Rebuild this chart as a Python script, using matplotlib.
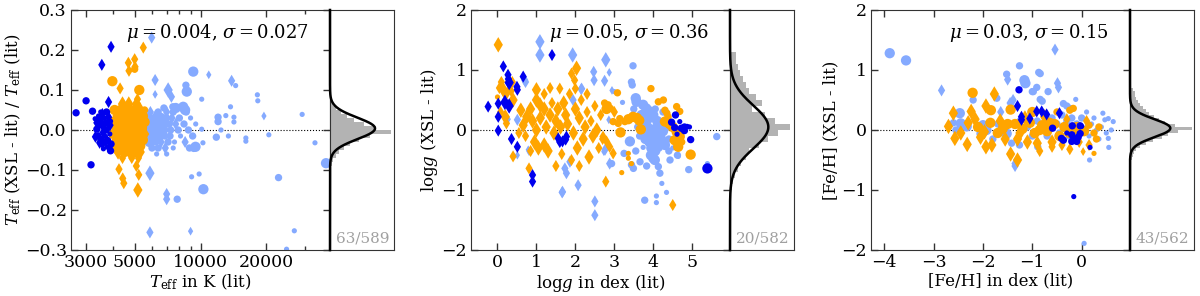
import numpy as np
import matplotlib
matplotlib.use('Agg')
import matplotlib.pyplot as plt
from matplotlib.ticker import NullFormatter

plt.rcParams['font.family'] = 'DejaVu Serif'
plt.rcParams['mathtext.fontset'] = 'dejavuserif'

# ---- data: (x, y, quality class, kind)  kind 'o' / 'd'
TEFF_BLUE = [
    (2700, 0.043, 2, 'o'), (3000, 0.073, 2, 'o'), (3210, 0.047, 2, 'o'), (3540, 0.163, 2, 'd'),
    (3900, 0.208, 2, 'd'), (3800, 0.070, 2, 'd'), (3160, -0.087, 2, 'o'), (3310, -0.017, 2, 'd'),
    (3300, 0.028, 1, 'o'), (3360, 0.018, 2, 'd'), (3420, 0.035, 1, 'o'), (3480, 0.025, 2, 'o'),
    (3560, 0.040, 2, 'd'), (3640, 0.030, 1, 'o'), (3720, 0.045, 2, 'o'), (3800, 0.032, 2, 'd'),
    (3880, 0.022, 1, 'o'), (3360, 0.002, 2, 'o'), (3440, 0.010, 1, 'o'), (3530, 0.015, 2, 'd'),
    (3620, 0.008, 1, 'o'), (3700, 0.018, 2, 'o'), (3780, 0.004, 1, 'o'), (3860, 0.012, 2, 'd'),
    (3420, -0.012, 1, 'o'), (3500, -0.022, 2, 'o'), (3590, -0.006, 2, 'd'), (3680, -0.016, 1, 'o'),
    (3760, -0.026, 2, 'o'), (3850, -0.010, 1, 'o'), (3460, -0.032, 2, 'd'), (3560, -0.038, 1, 'o'),
    (3650, -0.030, 2, 'o'), (3740, -0.042, 1, 'o'), (3830, -0.045, 2, 'd'), (3880, -0.052, 2, 'o'),
    (3600, -0.047, 1, 'o'), (3900, -0.035, 2, 'o'), (3700, 0.000, 2, 'o'), (3500, 0.045, 1, 'o'),
]
TEFF_ORANGE = [
    (3955, 0.122, 3, 'o'), (4290, 0.104, 2, 'd'), (5250, 0.100, 3, 'o'), (4680, 0.168, 2, 'd'),
    (4710, 0.148, 2, 'd'), (5000, 0.177, 2, 'd'), (5020, 0.158, 2, 'd'), (5000, 0.152, 2, 'o'),
    (5475, 0.206, 2, 'd'), (5150, 0.077, 2, 'd'), (4240, -0.098, 2, 'd'), (4410, -0.121, 2, 'd'),
    (4460, -0.133, 2, 'd'), (5090, -0.090, 2, 'd'), (5220, -0.112, 2, 'd'), (5170, -0.150, 3, 'd'),
    (4400, 0.065, 3, 'd'), (4700, 0.065, 3, 'd'), (5100, 0.065, 3, 'd'),
    (4050, 0.050, 3, 'o'), (4300, 0.050, 3, 'd'), (4550, 0.050, 3, 'o'), (4800, 0.050, 3, 'd'),
    (5050, 0.050, 3, 'o'), (5300, 0.050, 3, 'd'), (5550, 0.050, 2, 'o'),
    (4150, 0.035, 3, 'd'), (4400, 0.035, 3, 'o'), (4650, 0.035, 3, 'd'), (4900, 0.035, 3, 'o'),
    (5150, 0.035, 3, 'd'), (5450, 0.035, 3, 'o'),
    (4000, 0.020, 3, 'o'), (4250, 0.020, 3, 'd'), (4500, 0.020, 3, 'o'), (4750, 0.020, 3, 'd'),
    (5000, 0.020, 3, 'o'), (5250, 0.020, 3, 'd'), (5550, 0.020, 3, 'o'),
    (4100, 0.005, 3, 'd'), (4350, 0.005, 3, 'o'), (4600, 0.005, 3, 'd'), (4850, 0.005, 3, 'o'),
    (5100, 0.005, 3, 'd'), (5400, 0.005, 3, 'o'),
    (4000, -0.010, 3, 'o'), (4250, -0.010, 3, 'o'), (4500, -0.010, 3, 'd'), (4750, -0.010, 3, 'o'),
    (5000, -0.010, 3, 'd'), (5250, -0.010, 3, 'o'), (5550, -0.010, 3, 'd'),
    (4150, -0.025, 3, 'o'), (4400, -0.025, 3, 'd'), (4650, -0.025, 3, 'o'), (4900, -0.025, 3, 'd'),
    (5150, -0.025, 3, 'o'), (5450, -0.025, 3, 'o'),
    (4050, -0.040, 3, 'd'), (4300, -0.040, 3, 'o'), (4550, -0.040, 3, 'd'), (4800, -0.040, 3, 'o'),
    (5050, -0.040, 3, 'd'), (5300, -0.040, 3, 'o'),
    (4200, -0.055, 3, 'd'), (4500, -0.055, 3, 'o'), (4750, -0.055, 3, 'd'), (5000, -0.055, 3, 'o'),
    (5300, -0.055, 3, 'd'), (4400, -0.070, 2, 'd'), (4850, -0.070, 2, 'd'), (5200, -0.070, 2, 'd'),
]
TEFF_LIGHT = [
    (5980, 0.231, 2, 'd'), (6200, 0.125, 2, 'd'), (6200, 0.089, 1, 'd'), (7110, 0.100, 3, 'd'),
    (7360, 0.083, 2, 'd'), (9260, 0.146, 3, 'o'), (10900, 0.138, 1, 'd'), (13860, 0.123, 2, 'd'),
    (14460, 0.111, 1, 'o'), (18170, 0.088, 1, 'o'), (18250, 0.073, 1, 'o'), (13700, 0.058, 1, 'o'),
    (10120, 0.077, 1, 'o'), (8570, 0.112, 2, 'o'), (8650, 0.096, 3, 'o'), (8330, 0.058, 3, 'o'),
    (8500, 0.050, 3, 'o'), (7470, 0.058, 2, 'o'), (12020, 0.032, 2, 'o'), (12020, 0.021, 2, 'o'),
    (13040, 0.036, 1, 'o'), (14200, 0.032, 1, 'o'), (14200, 0.020, 1, 'o'), (19470, 0.035, 1, 'd'),
    (29100, 0.039, 1, 'o'), (33300, -0.032, 1, 'o'), (10120, 0.002, 1, 'o'), (12400, 0.000, 1, 'o'),
    (11800, -0.018, 2, 'o'), (13400, -0.015, 1, 'o'), (16100, -0.020, 1, 'o'), (16100, -0.028, 1, 'o'),
    (20500, -0.012, 1, 'o'), (9480, -0.042, 3, 'o'), (9300, -0.046, 2, 'o'), (10250, -0.032, 1, 'o'),
    (5870, -0.108, 3, 'd'), (7000, -0.160, 2, 'd'), (7000, -0.173, 2, 'd'), (7820, -0.173, 2, 'o'),
    (9100, -0.117, 1, 'o'), (9850, -0.110, 1, 'o'), (10300, -0.148, 3, 'o'), (22700, -0.119, 2, 'o'),
    (26800, -0.252, 1, 'o'), (24700, -0.298, 1, 'o'), (5870, -0.256, 2, 'd'), (9000, -0.253, 1, 'd'),
    (37400, -0.083, 3, 'o'),
    (6800, 0.055, 2, 'o'), (7700, 0.055, 3, 'o'), (8200, 0.055, 2, 'o'),
    (5900, 0.045, 2, 'd'), (6400, 0.045, 2, 'o'), (7000, 0.045, 2, 'd'), (7500, 0.045, 2, 'o'), (8600, 0.045, 2, 'o'),
    (5800, 0.030, 3, 'o'), (6200, 0.030, 3, 'd'), (6600, 0.030, 3, 'o'), (7000, 0.030, 2, 'o'),
    (7400, 0.030, 2, 'd'), (8000, 0.030, 2, 'o'), (9000, 0.030, 1, 'o'),
    (5750, 0.015, 3, 'o'), (6100, 0.015, 3, 'o'), (6450, 0.015, 3, 'd'), (6800, 0.015, 3, 'o'),
    (7200, 0.015, 2, 'o'), (7700, 0.015, 2, 'd'), (8400, 0.015, 2, 'o'), (9500, 0.015, 1, 'o'),
    (5800, 0.000, 3, 'd'), (6150, 0.000, 3, 'o'), (6500, 0.000, 3, 'o'), (6900, 0.000, 2, 'd'),
    (7300, 0.000, 2, 'o'), (7900, 0.000, 2, 'o'), (8800, 0.000, 2, 'o'),
    (5750, -0.015, 3, 'o'), (6100, -0.015, 3, 'd'), (6450, -0.015, 3, 'o'), (6850, -0.015, 2, 'o'),
    (7250, -0.015, 2, 'o'), (8100, -0.015, 1, 'o'), (9200, -0.015, 2, 'o'),
    (5850, -0.030, 3, 'o'), (6250, -0.030, 2, 'o'), (6600, -0.030, 2, 'd'), (7100, -0.030, 2, 'o'),
    (7600, -0.030, 1, 'o'), (8500, -0.030, 2, 'd'),
    (6000, -0.045, 2, 'o'), (6400, -0.045, 2, 'o'), (6900, -0.045, 2, 'd'), (7500, -0.045, 1, 'o'),
    (8900, -0.045, 2, 'o'), (6300, -0.060, 1, 'o'), (7000, -0.060, 1, 'o'),
]

LOGG_BLUE = [
    (-0.24, 0.39, 2, 'd'), (0.02, 0.44, 2, 'd'), (0.02, 0.22, 2, 'd'), (0.02, -0.01, 2, 'd'),
    (0.15, 1.06, 2, 'd'), (0.27, 0.92, 2, 'd'), (0.30, 0.79, 3, 'd'), (0.28, 0.85, 2, 'd'),
    (0.19, 0.46, 3, 'd'), (0.30, 0.40, 3, 'd'), (0.51, 0.67, 2, 'd'), (0.50, 0.72, 2, 'd'),
    (0.66, 0.89, 2, 'd'), (0.36, -0.15, 2, 'd'), (0.51, -0.28, 2, 'd'), (0.90, -0.75, 2, 'd'),
    (0.90, -0.86, 2, 'd'), (1.40, 1.25, 2, 'd'), (1.56, -0.14, 2, 'd'), (1.60, -0.20, 2, 'd'),
    (1.67, -0.19, 2, 'd'), (1.77, -0.11, 2, 'd'), (1.75, -0.16, 2, 'd'),
    (4.57, 0.25, 2, 'o'), (4.47, 0.13, 2, 'o'), (4.68, 0.14, 1, 'o'), (4.55, 0.04, 2, 'o'),
    (4.61, -0.07, 1, 'o'), (4.72, 0.03, 2, 'o'), (4.80, 0.05, 2, 'o'), (4.87, 0.06, 1, 'o'),
    (4.93, 0.05, 1, 'o'), (4.80, -0.01, 2, 'o'), (4.96, -0.16, 2, 'o'), (5.39, -0.64, 3, 'o'),
]
LOGG_ORANGE = [
    (0.02, 1.42, 3, 'd'), (0.00, 0.55, 1, 'o'), (0.05, 0.70, 2, 'd'), (0.10, 0.80, 2, 'd'),
    (0.15, 0.67, 3, 'd'), (0.20, 0.60, 2, 'd'), (0.08, 0.30, 2, 'd'), (0.20, 0.22, 3, 'd'),
    (0.23, 0.11, 2, 'd'), (0.40, 0.50, 3, 'd'), (0.38, 0.80, 2, 'd'), (0.35, 0.65, 2, 'd'),
    (0.25, 0.62, 2, 'd'), (0.40, -0.44, 2, 'd'), (0.60, 0.33, 3, 'd'), (0.66, 0.08, 3, 'd'),
    (0.75, 0.22, 3, 'd'), (0.72, -0.10, 2, 'd'), (0.81, -0.64, 2, 'd'), (0.85, 0.35, 3, 'd'),
    (0.90, 0.15, 3, 'd'), (0.95, -0.20, 3, 'd'), (1.00, 0.67, 3, 'd'), (1.00, 0.50, 3, 'd'),
    (1.09, 0.42, 3, 'd'), (1.00, 0.00, 3, 'd'), (1.05, -0.30, 3, 'd'), (1.10, 0.20, 3, 'd'),
    (1.20, 0.35, 3, 'd'), (1.25, 0.05, 3, 'd'), (1.20, -0.25, 3, 'd'), (1.30, -0.35, 3, 'd'),
    (1.35, 0.25, 3, 'd'), (1.40, 0.45, 2, 'd'), (1.45, -0.05, 3, 'd'), (1.50, 0.15, 3, 'd'),
    (1.50, -0.60, 2, 'd'), (1.55, 0.35, 3, 'd'), (1.60, 0.69, 2, 'd'), (1.62, 0.05, 3, 'd'),
    (1.70, 0.45, 3, 'd'), (1.75, 0.25, 3, 'd'), (1.80, 0.10, 3, 'd'), (1.85, 0.60, 2, 'd'),
    (1.90, 0.94, 2, 'd'), (2.03, 1.03, 3, 'd'), (1.98, 0.83, 2, 'd'), (2.00, 0.69, 2, 'd'),
    (1.95, -0.05, 3, 'd'), (2.00, 0.35, 3, 'd'), (2.10, 0.20, 3, 'd'), (2.05, -0.30, 3, 'd'),
    (2.15, 0.50, 2, 'd'), (2.20, -0.15, 3, 'd'), (2.25, 0.05, 3, 'd'), (2.30, 0.30, 2, 'd'),
    (2.35, -0.45, 3, 'd'), (2.40, 0.15, 2, 'd'), (2.45, -0.10, 3, 'd'), (2.50, 0.40, 2, 'd'),
    (2.55, 0.00, 3, 'd'), (2.60, -0.30, 2, 'd'), (2.65, 0.25, 2, 'd'), (2.70, -0.15, 2, 'd'),
    (2.75, 0.45, 2, 'o'), (2.80, 0.35, 3, 'o'), (2.78, -0.86, 2, 'd'), (2.84, 0.42, 2, 'o'),
    (2.90, 0.36, 2, 'o'), (1.20, 0.60, 2, 'd'), (0.55, -0.05, 2, 'd'), (1.65, -0.40, 2, 'd'),
    (1.90, -0.50, 2, 'd'), (2.10, -0.60, 2, 'd'), (1.35, 0.70, 2, 'd'), (2.30, 0.60, 2, 'd'),
    (0.85, -0.35, 2, 'd'),
    (2.97, 0.14, 2, 'o'), (3.10, 0.11, 2, 'o'), (3.27, 0.14, 2, 'o'), (3.14, 0.19, 2, 'o'),
    (3.36, 0.18, 3, 'o'), (3.48, 0.22, 3, 'o'), (3.58, 0.20, 3, 'o'), (3.64, 0.16, 3, 'o'),
    (3.68, 0.01, 3, 'o'), (3.16, -0.04, 3, 'o'), (2.71, -0.11, 2, 'd'), (2.80, -0.19, 2, 'd'),
    (2.88, -0.28, 2, 'd'), (2.97, -0.39, 2, 'd'), (3.36, -0.39, 1, 'o'), (3.36, -0.47, 1, 'o'),
    (3.44, -0.56, 1, 'o'), (3.19, -0.71, 1, 'o'), (3.08, 0.62, 2, 'o'), (3.94, 0.69, 2, 'o'),
    (4.13, 0.47, 2, 'o'), (4.26, 0.50, 2, 'o'), (4.30, 0.33, 2, 'o'), (4.35, 0.28, 2, 'o'),
    (4.38, 0.22, 2, 'o'), (4.30, 0.14, 3, 'o'), (4.42, 0.10, 3, 'o'), (4.50, 0.05, 3, 'o'),
    (4.60, -0.03, 3, 'o'), (4.68, -0.11, 3, 'o'), (4.55, -0.17, 3, 'o'), (4.64, -0.28, 3, 'o'),
    (4.73, -0.20, 2, 'o'), (4.60, 0.39, 2, 'o'), (4.68, 0.31, 2, 'o'), (4.96, -0.41, 3, 'o'),
    (4.50, -1.25, 2, 'd'), (3.00, 0.30, 2, 'd'),
]
LOGG_LIGHT = [
    (1.09, 1.47, 3, 'd'), (1.09, 1.25, 3, 'd'), (1.93, 1.25, 3, 'd'), (0.70, 0.83, 2, 'd'),
    (0.51, 0.17, 2, 'd'), (0.81, -0.36, 1, 'd'), (0.79, -0.33, 1, 'd'), (0.51, -0.42, 1, 'd'),
    (0.25, 0.18, 2, 'd'), (1.86, -0.53, 2, 'd'), (1.73, -0.64, 2, 'd'), (1.77, -0.72, 2, 'd'),
    (2.07, -0.92, 2, 'd'), (1.67, -1.03, 2, 'd'), (2.47, 0.97, 2, 'd'), (2.16, 0.69, 2, 'd'),
    (1.94, 0.50, 2, 'd'), (2.50, -1.19, 2, 'd'), (2.50, -1.42, 2, 'd'), (2.78, 1.17, 3, 'd'),
    (2.87, 0.96, 1, 'd'), (2.48, 0.83, 2, 'd'), (2.75, 0.82, 2, 'd'), (3.00, 0.64, 1, 'o'),
    (3.48, 1.07, 2, 'o'), (3.21, 0.46, 1, 'o'), (3.44, 0.80, 2, 'o'), (3.46, 0.75, 2, 'o'),
    (3.55, 0.53, 3, 'o'), (3.57, 0.47, 3, 'o'), (3.74, 0.42, 3, 'o'), (3.82, 0.36, 3, 'o'),
    (3.91, 0.31, 3, 'o'), (3.40, -0.19, 3, 'o'), (3.25, -0.39, 2, 'o'), (2.93, -0.56, 2, 'o'),
    (2.76, -0.33, 2, 'd'), (3.44, -0.58, 2, 'o'), (3.49, -0.64, 2, 'o'), (3.74, -0.29, 1, 'o'),
    (3.94, -0.42, 3, 'o'), (4.00, -0.47, 3, 'o'), (4.04, -0.50, 3, 'o'), (4.13, -0.61, 2, 'o'),
    (4.17, -0.72, 2, 'o'), (4.43, -0.50, 2, 'o'), (4.64, -0.44, 1, 'o'), (4.22, -0.89, 1, 'o'),
    (4.34, -1.04, 1, 'o'), (4.08, -1.10, 1, 'o'), (3.78, -1.17, 2, 'o'), (4.08, -1.21, 1, 'o'),
    (4.91, -0.66, 2, 'o'), (5.39, -0.56, 1, 'o'), (5.63, -0.11, 2, 'o'), (4.60, -0.28, 2, 'o'),
    (4.62, -0.42, 2, 'o'), (3.66, -0.53, 2, 'o'), (3.83, -0.60, 2, 'o'), (2.86, 0.17, 1, 'd'),
    (2.73, -0.36, 1, 'd'), (2.88, -0.56, 2, 'd'), (2.94, 0.66, 1, 'd'), (2.15, 0.68, 2, 'd'),
    (0.72, 0.80, 2, 'd'), (1.66, -1.04, 2, 'd'),
    (3.70, 0.25, 3, 'o'), (3.80, 0.15, 3, 'o'), (3.90, 0.20, 3, 'o'), (4.00, 0.25, 3, 'o'),
    (4.10, 0.15, 3, 'o'), (4.20, 0.10, 3, 'o'), (3.75, 0.00, 3, 'o'), (3.85, 0.05, 3, 'o'),
    (3.95, -0.05, 3, 'o'), (4.05, 0.02, 3, 'o'), (4.15, -0.05, 3, 'o'), (4.25, -0.02, 3, 'o'),
    (4.35, 0.05, 2, 'o'), (3.80, -0.15, 3, 'o'), (3.90, -0.20, 3, 'o'), (4.00, -0.12, 3, 'o'),
    (4.10, -0.22, 3, 'o'), (4.20, -0.15, 3, 'o'), (4.30, -0.25, 3, 'o'), (4.40, -0.15, 2, 'o'),
    (3.95, -0.30, 3, 'o'), (4.05, -0.35, 3, 'o'), (4.15, -0.30, 2, 'o'), (3.85, 0.30, 2, 'o'),
    (4.05, 0.35, 2, 'o'), (4.25, 0.30, 2, 'o'), (3.60, 0.05, 2, 'o'), (3.55, -0.35, 2, 'o'),
    (3.65, -0.10, 2, 'o'), (3.50, 0.35, 2, 'o'), (4.40, -0.35, 2, 'o'), (4.50, -0.30, 1, 'o'),
]

FEH_BLUE = [
    (-1.27, 0.67, 2, 'o'), (-1.30, 0.40, 2, 'd'), (-1.22, 0.22, 2, 'd'), (-1.22, 0.17, 2, 'd'),
    (-0.91, 0.31, 2, 'd'), (-0.81, 0.31, 2, 'd'), (-0.71, 0.26, 2, 'd'), (-0.45, 0.28, 2, 'd'),
    (-1.05, 0.19, 2, 'd'), (-0.59, 0.03, 2, 'o'), (-0.19, 0.07, 2, 'o'), (-0.03, 0.07, 2, 'o'),
    (0.00, 0.06, 1, 'o'), (-0.37, -0.17, 2, 'o'), (-0.41, -0.14, 2, 'o'), (-0.20, -0.08, 2, 'o'),
    (-0.15, -0.15, 2, 'o'), (-0.10, -0.19, 2, 'o'), (-0.07, -0.12, 2, 'o'), (-0.20, -0.19, 2, 'o'),
    (-0.03, -0.06, 2, 'o'), (0.17, -0.29, 1, 'o'), (-0.16, -1.11, 1, 'o'), (-0.30, -0.05, 1, 'o'),
]
FEH_ORANGE = [
    (-2.21, 0.62, 3, 'o'), (-1.77, 0.60, 3, 'd'), (-2.60, 0.28, 3, 'd'), (-1.94, 0.40, 3, 'd'),
    (-2.24, 0.31, 3, 'd'), (-2.70, 0.06, 3, 'd'), (-2.16, 0.18, 3, 'd'), (-2.57, -0.14, 3, 'd'),
    (-1.94, -0.28, 3, 'd'), (-2.32, -0.24, 3, 'd'), (-1.82, -0.25, 3, 'd'), (-1.97, -0.03, 3, 'd'),
    (-1.44, -0.40, 3, 'd'), (-1.30, -0.50, 3, 'd'), (-1.44, 0.34, 3, 'o'), (-1.84, 0.33, 3, 'o'),
    (-0.24, -0.32, 2, 'd'), (0.25, -0.39, 1, 'o'), (0.03, -0.36, 1, 'd'), (-0.17, 0.36, 2, 'o'),
    (-0.24, 0.33, 2, 'o'), (-2.45, -0.05, 3, 'd'), (-2.10, 0.05, 3, 'o'), (-1.65, 0.15, 3, 'd'),
    (-1.55, -0.15, 3, 'd'), (-1.70, -0.05, 3, 'o'), (-1.60, 0.02, 3, 'o'), (-2.05, -0.12, 3, 'd'),
    (-2.30, 0.12, 3, 'd'), (-1.85, 0.12, 3, 'o'), (-1.50, 0.10, 3, 'o'),
    (-1.35, 0.10, 3, 'o'), (-1.20, 0.02, 3, 'o'), (-1.05, 0.12, 3, 'o'), (-0.95, -0.05, 3, 'o'),
    (-0.80, 0.08, 3, 'o'), (-0.70, -0.02, 3, 'o'), (-0.55, 0.10, 3, 'o'), (-0.45, -0.10, 3, 'o'),
    (-0.35, 0.05, 3, 'o'), (-0.25, -0.05, 3, 'o'), (-0.10, 0.05, 3, 'o'), (0.05, -0.02, 3, 'o'),
    (0.15, 0.08, 2, 'o'), (0.25, -0.05, 2, 'o'), (0.35, 0.05, 2, 'o'), (-1.30, -0.15, 3, 'd'),
    (-1.10, -0.20, 3, 'd'), (-0.90, -0.22, 3, 'd'), (-0.60, -0.20, 3, 'd'), (-0.40, -0.25, 2, 'd'),
    (-0.05, -0.20, 2, 'd'), (0.15, -0.25, 2, 'd'), (-1.15, 0.20, 3, 'd'), (-0.75, 0.22, 3, 'd'),
    (-0.30, 0.18, 2, 'd'), (0.10, 0.15, 2, 'd'), (-0.60, -0.28, 2, 'd'), (-0.85, -0.35, 2, 'd'),
    (-1.00, 0.30, 3, 'o'), (-0.50, 0.30, 2, 'o'), (0.30, -0.15, 2, 'o'), (-1.25, -0.05, 3, 'd'),
    (-0.65, 0.12, 3, 'o'), (-0.15, 0.00, 3, 'o'), (-0.85, 0.00, 3, 'o'),
]
FEH_LIGHT = [
    (-3.89, 1.28, 3, 'o'), (-3.56, 1.16, 3, 'o'), (-2.84, 0.66, 2, 'd'), (-0.54, 1.34, 2, 'd'),
    (-1.26, 1.07, 2, 'o'), (-1.52, 0.93, 2, 'o'), (-1.50, 0.84, 2, 'd'), (-1.16, 0.83, 3, 'o'),
    (-1.14, 0.78, 3, 'o'), (-0.87, 0.96, 2, 'o'), (-0.91, 0.71, 2, 'o'), (-1.00, 0.64, 2, 'o'),
    (-0.68, 0.64, 2, 'o'), (-0.49, 0.78, 2, 'd'), (-0.47, 0.71, 2, 'd'), (-0.84, 0.51, 2, 'o'),
    (-0.80, 0.48, 2, 'o'), (-0.12, 0.51, 1, 'o'), (-2.20, 0.50, 2, 'o'), (-2.47, 0.28, 3, 'o'),
    (-2.45, 0.11, 3, 'o'), (-1.72, 0.53, 2, 'o'), (-1.64, 0.30, 2, 'd'), (-1.39, 0.50, 2, 'd'),
    (-1.42, -0.22, 2, 'o'), (-1.26, -0.25, 2, 'o'), (-1.35, -0.56, 2, 'd'), (-1.35, -0.60, 2, 'd'),
    (-0.89, -0.28, 2, 'o'), (0.16, -0.50, 1, 'o'), (0.05, -1.89, 1, 'o'), (0.43, 0.28, 1, 'o'),
    (0.47, 0.17, 1, 'o'), (0.54, 0.19, 1, 'o'), (0.64, 0.14, 1, 'o'), (0.55, -0.29, 1, 'o'),
    (0.54, -0.14, 1, 'o'), (-1.93, 0.00, 3, 'o'), (-2.03, -0.06, 3, 'o'), (-2.00, 0.08, 3, 'o'),
    (-2.33, 0.06, 3, 'o'), (-1.52, -0.06, 3, 'o'), (-2.55, 0.00, 2, 'o'), (-2.60, 0.12, 2, 'o'),
    (-0.84, 0.94, 2, 'o'), (-1.15, 0.80, 2, 'o'), (-0.98, 0.64, 2, 'o'), (-0.37, 0.44, 2, 'o'),
    (-0.30, 0.40, 2, 'o'), (-0.24, 0.36, 2, 'o'), (-1.45, 0.45, 2, 'd'),
    (-0.60, 0.20, 2, 'o'), (-0.50, 0.10, 2, 'o'), (-0.40, 0.25, 2, 'o'), (-0.30, 0.15, 2, 'o'),
    (-0.20, 0.20, 2, 'o'), (-0.10, 0.10, 2, 'o'), (0.00, 0.20, 2, 'o'), (0.10, 0.05, 1, 'o'),
    (0.20, 0.10, 1, 'o'), (0.30, 0.00, 1, 'o'), (0.40, 0.05, 1, 'o'), (0.50, -0.05, 1, 'o'),
    (-0.45, -0.05, 2, 'o'), (-0.25, -0.10, 2, 'o'), (-0.05, -0.05, 2, 'o'), (0.15, -0.10, 1, 'o'),
    (0.35, -0.15, 1, 'o'), (-0.70, -0.10, 2, 'o'), (-0.65, 0.05, 2, 'o'), (0.25, 0.20, 1, 'o'),
    (-1.10, 0.05, 2, 'o'), (-1.00, -0.10, 2, 'o'), (-0.90, 0.15, 2, 'o'), (-1.25, 0.15, 2, 'o'),
    (-1.70, 0.10, 2, 'o'), (-1.80, -0.15, 2, 'o'), (0.10, 0.30, 1, 'o'), (0.60, 0.00, 1, 'o'),
]

# residual histograms (bin centres, density)
TEFF_HIST_Y = [0.085, 0.075, 0.065, 0.055, 0.045, 0.035, 0.025, 0.015, 0.005, -0.005, -0.015,
               -0.025, -0.035, -0.045, -0.055, -0.065, -0.075, -0.085, -0.095, -0.105, -0.115]
TEFF_HIST_D = [0.3, 0.6, 1.0, 2.0, 3.5, 5.5, 8.0, 11.0, 15.0, 20.0, 13.0,
               9.5, 6.5, 4.5, 3.0, 2.0, 1.0, 0.6, 0.4, 0.3, 0.3]
LOGG_HIST_Y = [1.25, 1.15, 1.05, 0.95, 0.85, 0.75, 0.65, 0.55, 0.45, 0.35, 0.25, 0.15, 0.05,
               -0.05, -0.15, -0.25, -0.35, -0.45, -0.55, -0.65, -0.75, -0.85, -0.95, -1.05, -1.15]
LOGG_HIST_D = [0.18, 0.18, 0.22, 0.28, 0.37, 0.46, 0.55, 0.74, 0.92, 0.65, 1.0, 1.3, 1.72,
               1.39, 1.1, 0.83, 0.55, 0.46, 0.33, 0.24, 0.15, 0.09, 0.06, 0.04, 0.04]
FEH_HIST_Y = [0.675, 0.625, 0.575, 0.525, 0.475, 0.425, 0.375, 0.325, 0.275, 0.225, 0.175, 0.125,
              0.075, 0.025, -0.025, -0.075, -0.125, -0.175, -0.225, -0.275, -0.325, -0.375,
              -0.425, -0.475]
FEH_HIST_D = [0.2, 0.3, 0.34, 0.42, 0.5, 0.63, 0.84, 1.05, 1.27, 1.6, 1.9, 2.3,
              2.95, 4.1, 3.15, 2.5, 2.1, 1.5, 1.05, 0.63, 0.42, 0.25, 0.17, 0.13]

STATS = [(0.004, 0.027), (0.05, 0.36), (0.03, 0.15)]
OUTLIERS = ['63/589', '20/582', '43/562']

COLORS = ['#0000ee', '#ffa500', '#85aaff']
SIZES = {'o': {1: 14, 2: 28, 3: 55}, 'd': {1: 20, 2: 38, 3: 62}}
SPINE = '#333333'


def draw_points(ax, pts, color):
    for kind in ('o', 'd'):
        sel = [p for p in pts if p[3] == kind]
        if not sel:
            continue
        ax.scatter([p[0] for p in sel], [p[1] for p in sel],
                   s=[SIZES[kind][p[2]] for p in sel], marker=kind,
                   c=color, edgecolors='none', zorder=2)


def draw_hist(axh, ys, dens, width, mu, sigma, xmax, ylim, label):
    axh.barh(ys, dens, height=width, color='#b3b3b3', edgecolor='none')
    yy = np.linspace(ylim[0], ylim[1], 600)
    gauss = np.exp(-0.5 * ((yy - mu) / sigma) ** 2) / (sigma * np.sqrt(2 * np.pi))
    axh.plot(gauss, yy, color='k', lw=1.8, clip_on=False, zorder=3)
    axh.set_xlim(0, xmax)
    axh.set_ylim(ylim)
    axh.set_xticks([])
    axh.set_yticks([])
    for s in axh.spines.values():
        s.set_color(SPINE)
    axh.text(0.93, 0.02, label, transform=axh.transAxes, ha='right', va='bottom',
             color='#a0a0a0', fontsize=11)


fig = plt.figure(figsize=(12, 2.96), dpi=100)
W, H = 1200.0, 296.0
panels = [
    (TEFF_BLUE, TEFF_ORANGE, TEFF_LIGHT, TEFF_HIST_Y, TEFF_HIST_D, 0.01, 21.0, (-0.3, 0.3)),
    (LOGG_BLUE, LOGG_ORANGE, LOGG_LIGHT, LOGG_HIST_Y, LOGG_HIST_D, 0.1, 1.85, (-2, 2)),
    (FEH_BLUE, FEH_ORANGE, FEH_LIGHT, FEH_HIST_Y, FEH_HIST_D, 0.05, 4.22, (-2, 2)),
]
xlabels = [r'$T_{\rm eff}$ in K (lit)', r'$\mathrm{log}g$ in dex (lit)', '[Fe/H] in dex (lit)']
ylabels = [r'$T_{\rm eff}$ (XSL - lit) / $T_{\rm eff}$ (lit)', r'$\mathrm{log}g$ (XSL - lit)',
           '[Fe/H] (XSL - lit)']

for i, (blue, orange, light, hy, hd, bw, hmax, ylim) in enumerate(panels):
    x0 = 71 + 400 * i
    ax = fig.add_axes([x0 / W, 1 - 250 / H, 259 / W, 240 / H])
    axh = fig.add_axes([(x0 + 259) / W, 1 - 250 / H, 64 / W, 240 / H])

    draw_points(ax, light, COLORS[2])
    draw_points(ax, orange, COLORS[1])
    draw_points(ax, blue, COLORS[0])
    ax.axhline(0, color='k', ls=':', lw=0.8, zorder=1)

    if i == 0:
        ax.set_xscale('log')
        ax.set_xlim(2560, 39000)
        ax.set_xticks([3000, 5000, 10000, 20000])
        ax.set_xticklabels(['3000', '5000', '10000', '20000'])
        ax.xaxis.set_minor_formatter(NullFormatter())
        ax.set_yticks([-0.3, -0.2, -0.1, 0.0, 0.1, 0.2, 0.3])
    elif i == 1:
        ax.set_xlim(-0.68, 5.97)
        ax.set_xticks([0, 1, 2, 3, 4, 5])
        ax.set_yticks([-2, -1, 0, 1, 2])
    else:
        ax.set_xlim(-4.27, 0.98)
        ax.set_xticks([-4, -3, -2, -1, 0])
        ax.set_yticks([-2, -1, 0, 1, 2])
    ax.set_ylim(ylim)
    ax.tick_params(which='both', direction='in', top=True, right=True, colors=SPINE,
                   labelcolor='black', labelsize=12.5, width=1, pad=3)
    ax.tick_params(which='major', length=5)
    ax.tick_params(which='minor', length=3)
    for s in ax.spines.values():
        s.set_color(SPINE)
    ax.set_xlabel(xlabels[i], fontsize=12, labelpad=1)
    ax.set_ylabel(ylabels[i], fontsize=12, labelpad=1)
    mu, sig = STATS[i]
    ax.text(0.92, 0.95, r'$\mu = %s$, $\sigma = %s$' % (mu, sig), transform=ax.transAxes,
            ha='right', va='top', fontsize=13)

    draw_hist(axh, hy, hd, bw, mu, sig, hmax, ylim, OUTLIERS[i])

fig.savefig('out.png', dpi=100)
